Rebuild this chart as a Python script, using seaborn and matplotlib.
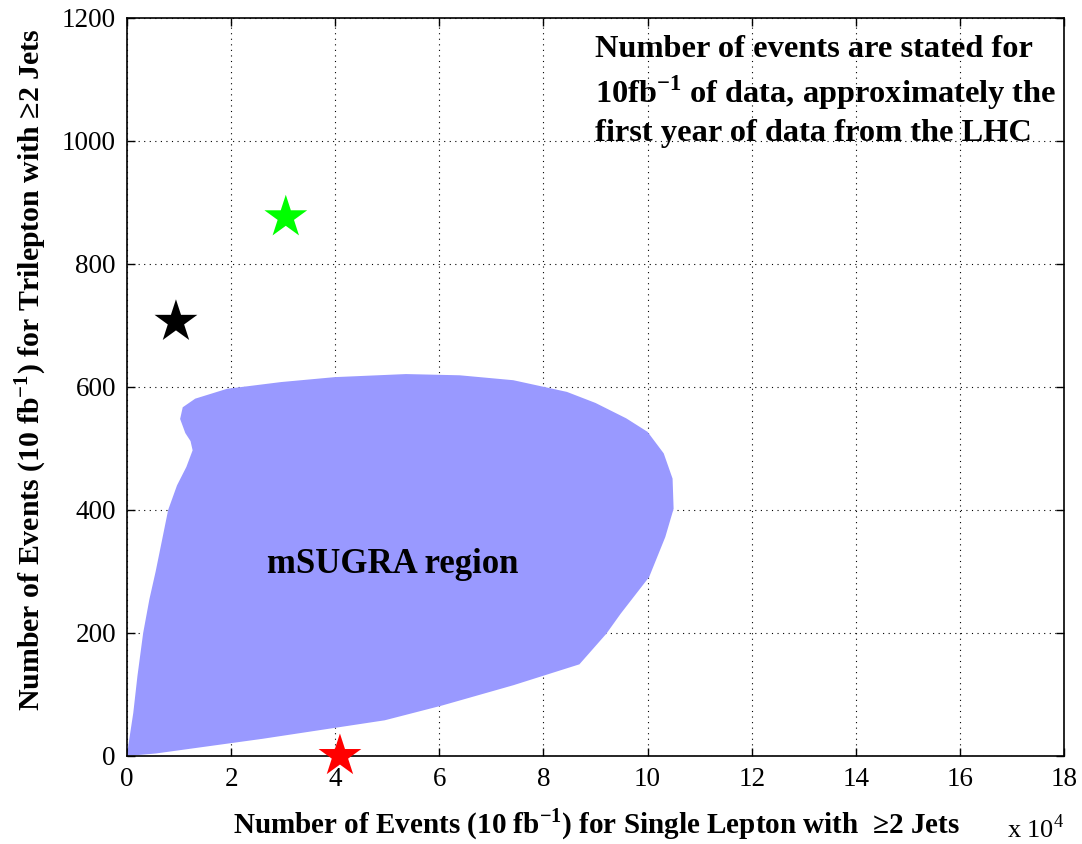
import numpy as np
import pandas as pd
import matplotlib
matplotlib.use("Agg")
import matplotlib.pyplot as plt
import seaborn as sns

# contorno da regiao mSUGRA (x em unidades de 10^4 eventos, y em eventos)
regiao_x = [0.0, 0.03, 0.12, 0.2, 0.31, 0.43, 0.55, 0.67, 0.79, 0.96, 1.14, 1.26,
            1.22, 1.12, 1.02, 1.07, 1.31, 1.92, 2.96, 3.99, 5.36, 6.39, 7.42, 8.45,
            9.00, 9.59, 10.0, 10.31, 10.48, 10.5, 10.34, 10.03, 9.48, 9.21, 8.69,
            7.42, 6.05, 4.95, 2.61, 0.55]
regiao_y = [0, 20, 70, 130, 200, 255, 300, 350, 400, 440, 470, 497,
            512, 525, 548, 567, 581, 597, 608, 616, 621, 619, 611, 592,
            574, 549, 527, 492, 451, 402, 356, 291, 231, 199, 149,
            115, 82, 58, 28, 4]

# pontos de referencia (estrelas)
estrelas_x = [0.94, 3.05, 4.09]
estrelas_y = [706, 876, 0]
estrelas_cor = ["black", "#00ff00", "red"]

x_ticks = np.arange(0, 19, 2)
y_ticks = np.arange(0, 1201, 200)

sns.set_theme(style="ticks")
plt.rcParams["font.family"] = ["Liberation Serif", "DejaVu Serif"]
plt.rcParams["text.color"] = "black"
plt.rcParams["axes.labelcolor"] = "black"
plt.rcParams["mathtext.fontset"] = "custom"
plt.rcParams["mathtext.rm"] = "Liberation Serif"
plt.rcParams["mathtext.bf"] = "Liberation Serif:bold"

fig = plt.figure(figsize=(10.82, 8.44), dpi=100)
ax = fig.add_axes([0.1174, 0.1043, 0.866, 0.8744])

ax.fill(regiao_x, regiao_y, color="#9999ff", linewidth=0, zorder=2)

df = pd.DataFrame({"x": estrelas_x, "y": estrelas_y, "cor": estrelas_cor})
sns.scatterplot(data=df, x="x", y="y", hue="cor", palette=dict(zip(estrelas_cor, estrelas_cor)),
                marker="*", s=1050, linewidth=0, legend=False, ax=ax, zorder=3, clip_on=False)

ax.set_xlim(0, 18)
ax.set_ylim(0, 1200)
ax.set_xticks(x_ticks)
ax.set_yticks(y_ticks)
ax.set_xticklabels([str(t) for t in x_ticks])
ax.set_yticklabels([str(t) for t in y_ticks])
ax.tick_params(direction="in", length=6, width=1, labelsize=19.5, top=True, right=True,
               colors="black", pad=8)
for s in ax.spines.values():
    s.set_color("black")
    s.set_linewidth(1.2)
ax.grid(True, color="black", linestyle=(0, (1, 4)), linewidth=0.8, zorder=1)
ax.set_axisbelow(True)

ax.set_xlabel(r"Number of Events (10 fb$^{\mathbf{-1}}$) for Single Lepton with  ≥2 Jets",
              fontsize=21, fontweight="bold")
ax.set_ylabel(r"Number of Events (10 fb$^{\mathbf{-1}}$) for Trilepton with ≥2 Jets",
              fontsize=21.5, fontweight="bold")
ax.xaxis.set_label_coords(0.501, -0.068)
ax.yaxis.set_label_coords(-0.083, 0.523)

ax.text(1.0, -0.098, r"x 10$^{4}$", transform=ax.transAxes, fontsize=19,
        ha="right", va="center")

ax.text(5.11, 312, "mSUGRA region", fontsize=25, fontweight="bold",
        ha="center", va="center", zorder=4)
ax.text(8.99, 1172,
        "Number of events are stated for\n"
        r"10fb$^{\mathbf{-1}}$ of data, approximately the" "\n"
        "first year of data from the LHC",
        fontsize=23.3, fontweight="bold", ha="left", va="top", linespacing=1.3, zorder=4)

fig.savefig("out.png", dpi=100)
